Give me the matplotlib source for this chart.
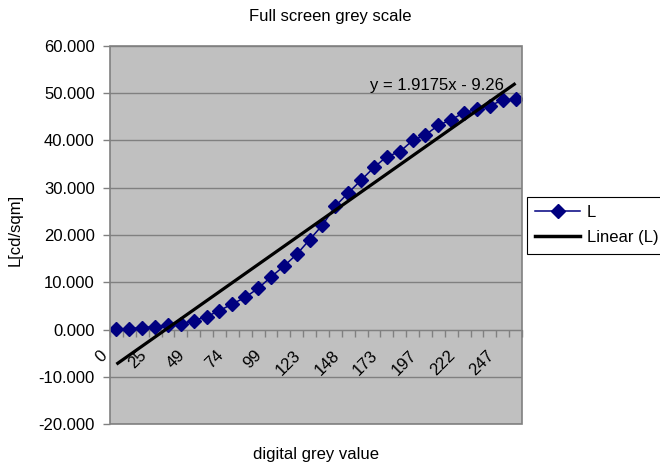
import numpy as np
import matplotlib
matplotlib.use("Agg")
import matplotlib.pyplot as plt
from matplotlib.lines import Line2D
from matplotlib.patches import Rectangle

plt.rcParams['font.family'] = ['Liberation Sans', 'DejaVu Sans']

# Digital grey levels (categories) and measured luminance
grey_levels = [0, 8, 16, 25, 33, 41, 49, 58, 66, 74, 82, 90, 99, 107, 115, 123,
               132, 140, 148, 156, 165, 173, 181, 189, 197, 206, 214, 222, 230, 239, 247, 255]
luminance = [0.1, 0.2, 0.4, 0.6, 0.9, 1.2, 1.9, 2.7, 4.0, 5.4, 6.8, 8.7,
             11.1, 13.4, 15.9, 19.0, 22.1, 26.1, 28.9, 31.6, 34.3,
             36.6, 37.6, 40.0, 41.2, 43.2, 44.4, 45.9, 46.6, 47.4, 48.5, 48.8]

# Linear trendline coefficients (x = category number, starting at 1)
slope = 1.9175
intercept = -9.26

label_step = 3
y_ticks = [-20, -10, 0, 10, 20, 30, 40, 50, 60]

idx = np.arange(len(grey_levels))
trend = slope * (idx + 1) + intercept

fig = plt.figure(figsize=(6.6, 4.66), dpi=100)
fig.patch.set_facecolor('white')
ax = fig.add_axes([110 / 660, 1 - 424 / 466, 412 / 660, 378 / 466])
ax.set_facecolor('#c0c0c0')

ax.set_xlim(-0.5, len(grey_levels) - 0.5)
ax.set_ylim(-20, 60)
ax.set_yticks(y_ticks)
ax.set_yticklabels([f"{v:.3f}" for v in y_ticks], fontsize=12)
ax.yaxis.grid(True, color='#808080', linewidth=1.0)
ax.set_axisbelow(True)

# Category axis crosses at zero; ticks sit between categories
for side in ('top', 'right', 'left'):
    ax.spines[side].set_visible(False)
ax.spines['bottom'].set_position(('data', 0))
ax.spines['bottom'].set_color('#808080')
ax.set_xticks(np.arange(-0.5, len(grey_levels), 1.0))
ax.set_xticklabels([])
ax.tick_params(axis='x', direction='out', length=5, color='#808080', width=1)
ax.tick_params(axis='y', direction='out', length=5, color='#808080', width=1, pad=6)

# Plot-area border
ax.add_patch(Rectangle((0, 0), 1, 1, transform=ax.transAxes, fill=False,
                       edgecolor='#808080', linewidth=1.2, zorder=5, clip_on=False))

for i in range(0, len(grey_levels), label_step):
    ax.annotate(str(grey_levels[i]), xy=(i, 0), xytext=(-12, -13),
                textcoords='offset points', rotation=45, ha='right', va='top',
                rotation_mode='anchor', fontsize=12, color='black')

ax.plot(idx, luminance, color='#000080', linewidth=1.1, marker='D',
        markersize=7, markerfacecolor='#000080', markeredgecolor='#000080', zorder=3)
ax.plot(idx, trend, color='black', linewidth=2.3, zorder=4, solid_capstyle='butt')

ax.text((504 - 110) / 412, 50.7, f"y = {slope}x - {abs(intercept)}",
        transform=ax.get_yaxis_transform(), ha='right', va='baseline', fontsize=12)

fig.text(330 / 660, 1 - 16 / 466, "Full screen grey scale", ha='center', va='center', fontsize=12)
fig.text(316 / 660, 1 - 455 / 466, "digital grey value", ha='center', va='center', fontsize=12)
fig.text(15 / 660, 1 - 230 / 466, "L[cd/sqm]", ha='center', va='center', rotation=90, fontsize=12)

handles = [
    Line2D([], [], color='#000080', linewidth=1.1, marker='D', markersize=7,
           markerfacecolor='#000080', markeredgecolor='#000080'),
    Line2D([], [], color='black', linewidth=2.5),
]
leg = fig.legend(handles, ["L", "Linear (L)"], loc='upper left',
                 bbox_to_anchor=(527 / 660, 1 - 197 / 466), fontsize=12,
                 frameon=True, fancybox=False, edgecolor='black', framealpha=1,
                 handlelength=2.7, handletextpad=0.4, labelspacing=0.6,
                 borderpad=0.5, borderaxespad=0)
leg.get_frame().set_linewidth(0.8)

fig.savefig("out.png", dpi=100, facecolor='white')
